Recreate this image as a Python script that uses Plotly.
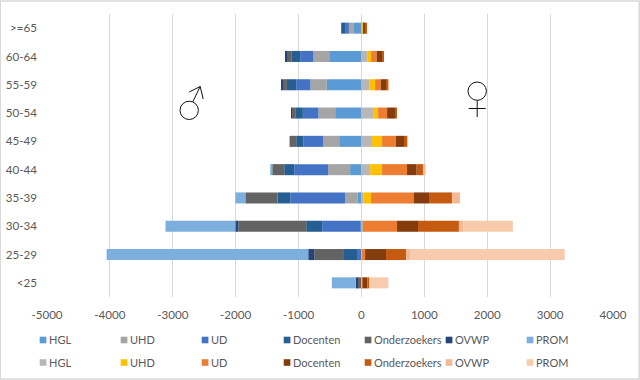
import plotly.graph_objects as go

ages = ["<25", "25-29", "30-34", "35-39", "40-44", "45-49", "50-54", "55-59", "60-64", ">=65"]
functions = ["HGL", "UHD", "UD", "Docenten", "Onderzoekers", "OVWP", "PROM"]
x_ticks = [-5000, -4000, -3000, -2000, -1000, 0, 1000, 2000, 3000, 4000]
x_labels = ["-5000", "-4000", "-3000", "-2000", "-1000", "0", "1000", "2000", "3000", "4000"]

# Men, drawn as negative values, from centre outwards
m_hgl = [0, 0, -21, -58, -180, -354, -418, -550, -513, -130]
m_uhd = [0, 0, 0, -201, -349, -254, -265, -260, -250, -70]
m_ud = [0, -58, -603, -873, -540, -313, -248, -227, -212, -50]
m_doc = [0, -233, -254, -201, -159, -116, -122, -148, -132, -72]
m_ond = [-68, -460, -1079, -513, -190, -106, -53, -63, -90, 0]
m_ovwp = [-21, -95, -48, 0, 0, 0, -10, -21, -15, 0]
m_prom = [-381, -3206, -1111, -159, -32, 0, 0, 0, 0, 0]

# Women
v_hgl = [10, 10, 21, 37, 138, 169, 185, 132, 100, 15]
v_uhd = [0, 0, 0, 116, 190, 159, 80, 85, 53, 15]
v_ud = [10, 48, 545, 683, 397, 222, 143, 90, 90, 10]
v_doc = [74, 333, 333, 238, 153, 127, 127, 95, 85, 20]
v_ond = [32, 317, 651, 365, 100, 53, 26, 26, 21, 15]
v_ovwp = [0, 74, 70, 127, 42, 0, 0, 5, 0, 0]
v_prom = [302, 2450, 787, 0, 0, 0, 0, 0, 0, 0]

men = [m_hgl, m_uhd, m_ud, m_doc, m_ond, m_ovwp, m_prom]
women = [v_hgl, v_uhd, v_ud, v_doc, v_ond, v_ovwp, v_prom]
men_colors = ["#5B9BD5", "#A5A5A5", "#4472C4", "#255E91", "#636363", "#264478", "#7CAFDD"]
women_colors = ["#B7B7B7", "#FFC000", "#ED7D31", "#843C0C", "#C55A11", "#F3B994", "#F8CBAD"]

W, H = 640, 380
L, R, T, B = 47.3, 26.7, 14, 83
TEXT = "#595959"
FONT = "Lato"
FS = 11.6
LEGEND_FS = 11


def px(x):
    return (x - L) / (W - L - R)


def py(y):
    return 1 - (y - T) / (H - T - B)


fig = go.Figure()
for name, vals, col in zip(functions, men, men_colors):
    fig.add_trace(go.Bar(y=ages, x=vals, name=name, orientation="h", marker_color=col,
                         marker_line_width=0, showlegend=False))
for name, vals, col in zip(functions, women, women_colors):
    fig.add_trace(go.Bar(y=ages, x=vals, name=name, orientation="h", marker_color=col,
                         marker_line_width=0, showlegend=False))

shapes = []
annotations = []


def line(x0, y0, x1, y1, color="#111111", w=1.0):
    shapes.append(dict(type="line", xref="paper", yref="paper", x0=px(x0), y0=py(y0),
                       x1=px(x1), y1=py(y1), line=dict(color=color, width=w)))


# Outer chart border
shapes.append(dict(type="rect", xref="paper", yref="paper", x0=px(0.5), y0=py(1), x1=px(639.5), y1=py(379),
                   line=dict(color="#D9D9D9", width=1.5), fillcolor="rgba(0,0,0,0)", layer="below"))

# Male sign
shapes.append(dict(type="circle", xref="paper", yref="paper", x0=px(180.3), y0=py(119.5), x1=px(198.7), y1=py(101.2),
                   line=dict(color="#111111", width=1)))
line(193, 102, 200.5, 86.5)
line(189.5, 92, 200.5, 86.5)
line(200.5, 86.5, 203.5, 99)

# Female sign
shapes.append(dict(type="circle", xref="paper", yref="paper", x0=px(468.3), y0=py(100.3), x1=px(486.7), y1=py(82),
                   line=dict(color="#111111", width=1)))
line(477.5, 100.3, 477.5, 117)
line(469, 108.5, 486, 108.5)

# Legend rows
col_x = [40, 121, 202, 284, 365, 446, 527]
for row_y, colors in ((340, men_colors), (362.5, women_colors)):
    for cx, name, col in zip(col_x, functions, colors):
        shapes.append(dict(type="rect", xref="paper", yref="paper", x0=px(cx), y0=py(row_y + 3.3),
                           x1=px(cx + 6.7), y1=py(row_y - 3.3), line_width=0, fillcolor=col))
        annotations.append(dict(xref="paper", yref="paper", x=px(cx + 8), y=py(row_y - 0.5), text=name,
                                showarrow=False, xanchor="left", yanchor="middle",
                                font=dict(family=FONT, size=LEGEND_FS, color=TEXT), borderpad=0))

fig.update_layout(
    width=W, height=H,
    margin=dict(l=L, r=R, t=T, b=B, autoexpand=False),
    paper_bgcolor="white", plot_bgcolor="white",
    barmode="relative", bargap=0.61,
    font=dict(family=FONT, size=FS, color=TEXT),
    shapes=shapes, annotations=annotations,
    xaxis=dict(range=[-5000, 4000], tickvals=x_ticks, ticktext=x_labels, showgrid=True, gridcolor="#D9D9D9",
               gridwidth=1, zeroline=True, zerolinecolor="#D9D9D9", zerolinewidth=1, showline=False, ticks="",
               ticklabelstandoff=9),
    yaxis=dict(type="category", categoryorder="array", categoryarray=ages, showgrid=False, zeroline=False,
               showline=False, ticks="", ticklabelstandoff=9),
)
fig.write_html("out.html", config={"displayModeBar": False},
               post_script="document.body.style.margin='0';document.body.style.overflow='hidden';")
